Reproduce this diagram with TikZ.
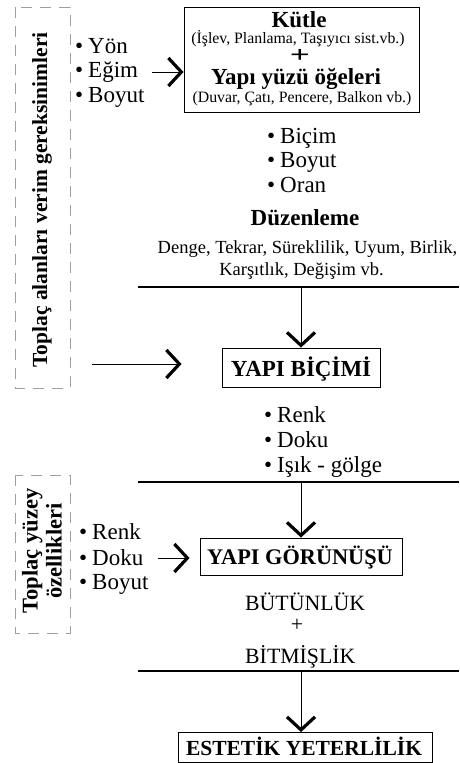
\documentclass[tikz,border=0pt]{standalone}
\usepackage{fontspec}
\usepackage{graphicx}
\setmainfont{Liberation Serif}
\usetikzlibrary{arrows.meta}
\newcommand{\bul}{\textbullet\hskip 5pt}
\tikzset{
  txt/.style={inner sep=0pt, font=\fontsize{18.5}{22}\selectfont},
  lst/.style={inner sep=0pt, anchor=base west, font=\fontsize{23}{25}\selectfont},
  big/.style={inner sep=0pt, font=\fontsize{21.8}{25}\selectfont},
  btxt/.style={inner sep=0pt, font=\fontsize{23}{25}\bfseries\selectfont},
  small/.style={inner sep=0pt, font=\fontsize{15.8}{18}\selectfont},
  framebox/.style={draw, line width=0.9pt, inner sep=0pt},
  dashbox/.style={draw=gray!75, line width=0.9pt, dash pattern=on 11pt off 8pt},
  chev/.style={line width=0.8pt, -{Straight Barb[length=13pt, width=28pt, line width=3.2pt]}},
  rule/.style={line width=1.2pt},
}
\begin{document}
\begin{tikzpicture}[x=1pt,y=-1pt]
\useasboundingbox (0,0) rectangle (459,763);
% left dashed box 1
\draw[dashbox] (15,7) rectangle (70,388);
\node[btxt, rotate=90, font=\fontsize{21.5}{25}\bfseries\selectfont] (t1) at (42,200) {Toplaç alanları verim gereksinimleri};
% list 1
\node[lst] (l1a) at (75,53) {\bul Yön};
\node[lst] (l1b) at (75,77.5) {\bul Eğim};
\node[lst] (l1c) at (75,102) {\bul Boyut};
\coordinate (a1s) at (152,72);
% Kutle box
\node[framebox, minimum width=235pt, minimum height=105pt] (kutle) at (301.5,59.5) {};
\node[btxt, anchor=base] (k1) at (299,27) {Kütle};
\node[small, anchor=base] (k2) at (298,43) {(İşlev, Planlama, Taşıyıcı sist.vb.)};
\node[inner sep=0pt, font=\fontsize{22}{22}\bfseries\selectfont] (k3) at (300,56) {\scalebox{1.6}[1.05]{+}};
\node[btxt, anchor=base] (k4) at (296,84) {Yapı yüzü öğeleri};
\node[small, anchor=base] (k5) at (302,102) {(Duvar, Çatı, Pencere, Balkon vb.)};
\draw[chev] (a1s) -- (a1s -| kutle.west);
% list 2
\node[lst] (l2a) at (267,143) {\bul Biçim};
\node[lst] (l2b) at (267,167.5) {\bul Boyut};
\node[lst] (l2c) at (267,192) {\bul Oran};
\node[btxt, anchor=base] (duz) at (305,225) {Düzenleme};
\node[txt, anchor=base] (d1) at (307.5,253) {Denge, Tekrar, Süreklilik, Uyum, Birlik,};
\node[txt, anchor=base] (d2) at (301.5,275) {Karşıtlık, Değişim vb.};
\coordinate (h1l) at (138,287);
\coordinate (h1r) at (459,287);
\draw[rule] (h1l) -- (h1r);
\coordinate (v1) at (301,288);
% YAPI BICIMI
\node[framebox, minimum width=158pt, minimum height=39pt] (yb) at (301,367.5) {};
\node[btxt, anchor=base] (ybt) at (301,376) {YAPI BİÇİMİ};
\draw[chev] (v1) -- (yb.north);
\coordinate (a2s) at (92,364);
\draw[chev, shorten >=40pt] (a2s) -- (a2s -| yb.west);
% list 3
\node[lst] (l3a) at (264,422) {\bul Renk};
\node[lst] (l3b) at (264,447) {\bul Doku};
\node[lst] (l3c) at (264,472) {\bul Işık - gölge};
\coordinate (h2l) at (138,482);
\coordinate (h2r) at (459,482);
\draw[rule] (h2l) -- (h2r);
\coordinate (v2) at (301,483);
% left dashed box 2
\draw[dashbox] (15,475) rectangle (70,633);
\node[rotate=90, align=center, inner sep=0pt, font=\fontsize{22.5}{24}\bfseries\selectfont] (t2) at (42,551) {Toplaç yüzey\\özellikleri};
% list 4
\node[lst] (l4a) at (79,539) {\bul Renk};
\node[lst] (l4b) at (79,565) {\bul Doku};
\node[lst] (l4c) at (79,589) {\bul Boyut};
% YAPI GORUNUSU
\node[framebox, minimum width=202pt, minimum height=37pt] (yg) at (301,556.5) {};
\node[btxt, anchor=base, font=\fontsize{22.3}{25}\bfseries\selectfont] (ygt) at (300,564) {YAPI GÖRÜNÜŞÜ};
\draw[chev] (v2) -- (yg.north);
\coordinate (a3s) at (158,558);
\draw[chev, shorten >=10pt] (a3s) -- (a3s -| yg.west);
% Butunluk
\node[big, anchor=base west] (b1) at (245,610) {BÜTÜNLÜK};
\node[big] (b2) at (297,625) {+};
\node[big, anchor=base west] (b3) at (245,663) {BİTMİŞLİK};
\coordinate (h3l) at (138,671);
\coordinate (h3r) at (459,671);
\draw[rule] (h3l) -- (h3r);
\coordinate (v3) at (301,672);
% ESTETIK
\node[framebox, minimum width=254pt, minimum height=30pt] (ey) at (305,747.5) {};
\node[btxt, anchor=base, font=\fontsize{21.5}{25}\bfseries\selectfont] (eyt) at (304,755) {ESTETİK YETERLİLİK};
\draw[chev] (v3) -- (v3 |- ey.north);
\end{tikzpicture}
\end{document}
